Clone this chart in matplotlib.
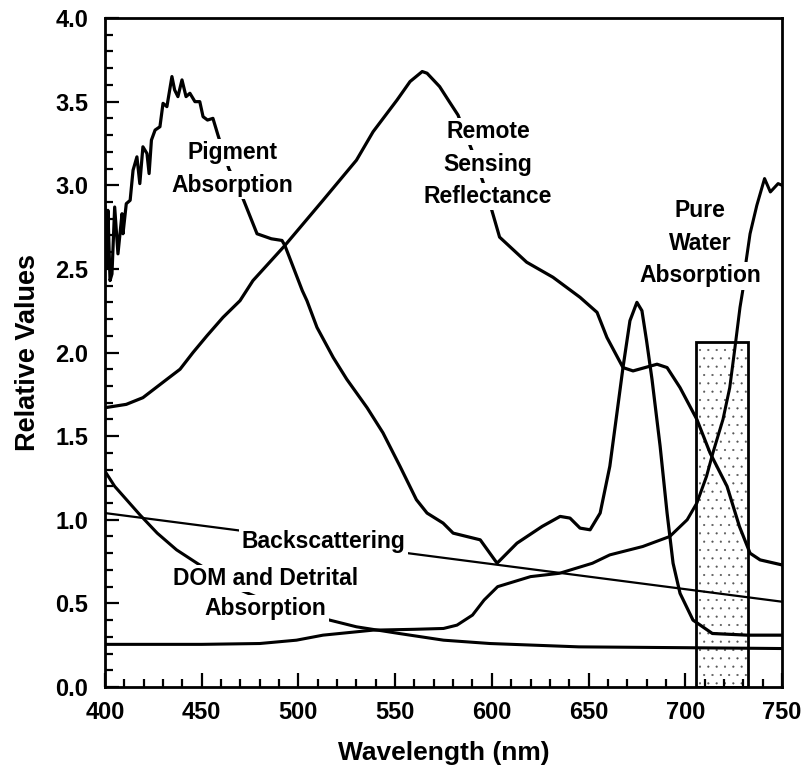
import matplotlib
matplotlib.use("Agg")
import matplotlib.pyplot as plt
from matplotlib.patches import Rectangle
from matplotlib.ticker import MultipleLocator

plt.rcParams['font.family'] = ['Liberation Sans', 'DejaVu Sans']
plt.rcParams['hatch.linewidth'] = 0.3

# pigment absorption (noisy blue band, shoulder, red peak at 675)
pig_x = [400, 401, 401.5, 402.6, 403.6, 405, 406.7, 408.8, 409.3, 411, 413, 414.5,
         416.5, 418, 419.6, 421.7, 422.8, 424, 425.9, 428.4, 430, 432, 434.6, 436,
         437.7, 439.8, 441.9, 443.9, 446.5, 449, 450.7, 453, 455.8, 458.4, 464, 471,
         478.6, 486, 491.5, 493, 502, 504.4, 509.6, 518, 525, 535.5, 543.7, 552.5,
         561, 566.5, 574.8, 580, 594, 602.7, 613, 626, 635.3, 640.4, 645.6, 650.8,
         656, 661, 664.7, 667.8, 671.4, 675, 677.6, 680, 682.8, 687, 690.6, 693.7,
         697.3, 704, 714, 732, 750]
pig_y = [2.87, 2.51, 2.85, 2.43, 2.47, 2.87, 2.59, 2.83, 2.71, 2.89, 2.91, 3.09,
         3.17, 3.01, 3.23, 3.19, 3.07, 3.27, 3.33, 3.35, 3.49, 3.47, 3.65, 3.57,
         3.53, 3.63, 3.53, 3.55, 3.50, 3.50, 3.41, 3.39, 3.40, 3.30, 3.10, 2.93,
         2.71, 2.68, 2.67, 2.64, 2.37, 2.31, 2.15, 1.97, 1.84, 1.67, 1.52, 1.32,
         1.12, 1.04, 0.98, 0.92, 0.88, 0.74, 0.86, 0.96, 1.02, 1.01, 0.95, 0.94,
         1.04, 1.32, 1.64, 1.91, 2.19, 2.30, 2.25, 2.07, 1.84, 1.44, 1.04, 0.74,
         0.56, 0.40, 0.32, 0.31, 0.31]

# remote sensing reflectance
rrs_x = [400, 411, 419.6, 432, 438.8, 445.5, 452.7, 461, 469.8, 476.5, 493, 512.7,
         530, 538.6, 551, 557.7, 564, 566.5, 573, 578, 582.5, 590, 596, 600, 604,
         618, 631.6, 645.6, 654.4, 659.5, 667.8, 673, 685.4, 690.6, 697.3, 706,
         712.8, 721.6, 728, 733.5, 738.7, 750]
rrs_y = [1.67, 1.69, 1.73, 1.84, 1.90, 2.00, 2.10, 2.21, 2.31, 2.43, 2.64, 2.91,
         3.15, 3.32, 3.51, 3.62, 3.68, 3.67, 3.59, 3.50, 3.42, 3.20, 3.00, 2.85, 2.69,
         2.54, 2.45, 2.33, 2.24, 2.09, 1.91, 1.89, 1.93, 1.91, 1.79, 1.60,
         1.40, 1.20, 0.96, 0.80, 0.76, 0.73]

# pure water absorption
water_x = [400, 450, 480, 499, 512.7, 538.6, 560, 575, 582, 590, 596, 603, 620,
           635, 652, 661, 678, 692, 701, 706, 711, 714.3, 719.5, 723, 725.7,
           728.3, 730, 731.5, 733.5, 737, 741, 744, 748, 750]
water_y = [0.255, 0.255, 0.26, 0.28, 0.31, 0.34, 0.345, 0.35, 0.37, 0.43, 0.52,
           0.60, 0.66, 0.68, 0.74, 0.79, 0.84, 0.90, 1.00, 1.10, 1.26, 1.40, 1.60,
           1.79, 2.03, 2.27, 2.39, 2.55, 2.71, 2.88, 3.04, 2.96, 3.01, 3.00]

# DOM and detrital absorption
dom_x = [400, 405, 418, 427, 437, 447.6, 470, 490, 512.7, 530, 552, 575, 599,
         645, 700, 750]
dom_y = [1.29, 1.20, 1.03, 0.92, 0.82, 0.74, 0.58, 0.48, 0.41, 0.36, 0.32, 0.28,
         0.26, 0.24, 0.235, 0.23]

# backscattering
bb_x = [400, 450, 500, 550, 600, 650, 700, 750]
bb_y = [1.04, 0.965, 0.89, 0.81, 0.735, 0.66, 0.585, 0.51]

# shaded band
band_lo, band_hi, band_top = 705.5, 732.5, 2.06

fig = plt.figure(figsize=(8.04, 7.67), dpi=100)
ax = fig.add_axes([0.1306, 0.1043, 0.8420, 0.8722])

ax.add_patch(Rectangle((band_lo, 0), band_hi - band_lo, band_top,
                       facecolor='white', edgecolor='#555555', hatch='..',
                       linewidth=0, zorder=1))
ax.add_patch(Rectangle((band_lo, 0), band_hi - band_lo, band_top,
                       fill=False, edgecolor='black', linewidth=2, zorder=1.5))

ax.plot(pig_x, pig_y, color='black', lw=2.3, zorder=2)
ax.plot(rrs_x, rrs_y, color='black', lw=2.3, zorder=2)
ax.plot(water_x, water_y, color='black', lw=2.2, zorder=2)
ax.plot(dom_x, dom_y, color='black', lw=2.2, zorder=2)
ax.plot(bb_x, bb_y, color='black', lw=1.6, zorder=2)


def label(x, y, lines, step=0.195):
    # one white-backed text per line, baselines stepping down
    for i, s in enumerate(lines):
        ax.text(x, y - i * step, s, fontsize=16.5, fontweight='bold',
                ha='center', va='baseline', zorder=3,
                bbox=dict(boxstyle='square,pad=0.1', facecolor='white',
                          edgecolor='none'))


label(465.7, 3.157, ['Pigment', 'Absorption'])
label(598, 3.283, ['Remote', 'Sensing', 'Reflectance'])
label(707.6, 2.81, ['Pure', 'Water', 'Absorption'])
label(483, 0.61, ['DOM and Detrital', 'Absorption'], step=0.18)
label(512.9, 0.831, ['Backscattering'])

ax.set_xlim(400, 750)
ax.set_ylim(0, 4)
ax.xaxis.set_major_locator(MultipleLocator(50))
ax.xaxis.set_minor_locator(MultipleLocator(10))
ax.yaxis.set_major_locator(MultipleLocator(0.5))
ax.yaxis.set_minor_locator(MultipleLocator(0.1))
ax.yaxis.set_major_formatter('{x:.1f}')
ax.tick_params(which='both', direction='in', width=1.6)
ax.tick_params(which='major', length=10)
ax.tick_params(which='minor', length=5.5)
ax.tick_params(axis='x', pad=10, labelsize=17)
ax.tick_params(axis='y', pad=12, labelsize=17)
for lab in ax.get_xticklabels() + ax.get_yticklabels():
    lab.set_fontweight('bold')
for sp in ax.spines.values():
    sp.set_linewidth(2)

ax.set_xlabel('Wavelength (nm)', fontsize=19, fontweight='bold', labelpad=12)
ax.set_ylabel('Relative Values', fontsize=19.5, fontweight='bold', labelpad=10)

fig.savefig('out.png', dpi=100)
